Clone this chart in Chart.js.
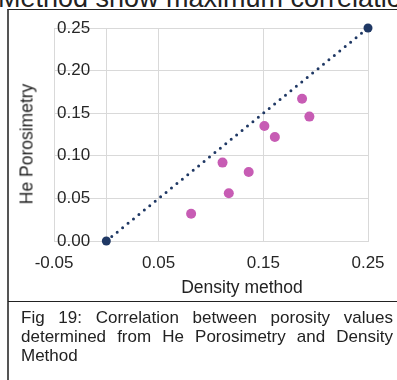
<!DOCTYPE html>
<html>
<head>
<meta charset="utf-8">
<script src="https://cdn.jsdelivr.net/npm/chart.js@4.4.1/dist/chart.umd.min.js"></script>
<style>
  html, body { margin: 0; padding: 0; background: #fff; }
  body { width: 397px; height: 380px; position: relative; overflow: hidden; font-family: "Liberation Sans", Arial, sans-serif; color: #222; }
  #headText { position: absolute; left: -2px; top: -15px; font-size: 27px; line-height: 27px; white-space: nowrap; }
  #frame { position: absolute; left: 7px; top: 9px; width: 400px; height: 380px; border-left: 2px solid #555; border-top: 1px solid #222; }
  #sep { position: absolute; left: 8px; top: 301px; width: 400px; border-top: 1px solid #222; }
  #chart { position: absolute; left: 0; top: 0; }
  .axisTitle { position: absolute; font-size: 17.5px; white-space: nowrap; color: #222; }
  #yTitle { left: 27px; top: 144px; transform: translate(-50%, -50%) rotate(-90deg); }
  #xTitle { left: 242px; top: 287px; transform: translate(-50%, -50%); }
  #caption { position: absolute; left: 21px; top: 308px; width: 372px; font-size: 17px; line-height: 19px; }
  #caption .j { text-align: justify; text-align-last: justify; }
</style>
</head>
<body>
<div id="headText">Method show maximum correlation</div>
<div id="frame"></div>
<div id="sep"></div>
<canvas id="chart" width="397" height="380"></canvas>
<div class="axisTitle" id="yTitle">He Porosimetry</div>
<div class="axisTitle" id="xTitle">Density method</div>
<div id="caption">
  <div class="j">Fig 19: Correlation between porosity values</div>
  <div class="j">determined from He Porosimetry and Density</div>
  <div>Method</div>
</div>
<script>
// --- DATA ---
const densityMethod = [0.081, 0.111, 0.117, 0.136, 0.151, 0.161, 0.187, 0.194];
const hePorosimetry = [0.032, 0.092, 0.056, 0.081, 0.135, 0.122, 0.167, 0.146];
const refLineX = [0, 0.25];
const refLineY = [0, 0.25];
const xTicks = [-0.05, 0, 0.05, 0.15, 0.25]; // 0 carries the vertical axis line, no label
const xLabelled = [-0.05, 0.05, 0.15, 0.25];
const yTicks = [0, 0.05, 0.10, 0.15, 0.20, 0.25];

const navy = '#1f3864';
const pink = '#c75cb4';
const gridColor = '#d9d9d9';

Chart.defaults.font.family = "'Liberation Sans', Arial, sans-serif";

const chart = new Chart(document.getElementById('chart'), {
  type: 'scatter',
  data: {
    datasets: [
      {
        label: 'Reference',
        data: refLineX.map((x, i) => ({ x, y: refLineY[i] })),
        showLine: true,
        clip: false,
        borderColor: navy,
        backgroundColor: navy,
        borderWidth: 3,
        borderDash: [0, 7],
        borderCapStyle: 'round',
        pointRadius: 4.5,
        pointHoverRadius: 4.5,
        pointBorderWidth: 0
      },
      {
        label: 'Samples',
        data: densityMethod.map((x, i) => ({ x, y: hePorosimetry[i] })),
        clip: false,
        backgroundColor: pink,
        borderColor: pink,
        pointRadius: 5,
        pointHoverRadius: 5,
        pointBorderWidth: 0
      }
    ]
  },
  options: {
    responsive: false,
    animation: false,
    devicePixelRatio: 1,
    layout: { padding: { left: 48, right: 29, top: 28, bottom: 99 } },
    plugins: { legend: { display: false }, tooltip: { enabled: false } },
    scales: {
      x: {
        type: 'linear',
        position: 'bottom',
        min: -0.05,
        max: 0.25,
        afterBuildTicks: s => { s.ticks = xTicks.map(v => ({ value: v })); },
        afterFit: s => { s.height = 40; },
        grid: { color: gridColor, drawTicks: false },
        border: { color: gridColor },
        ticks: {
          padding: 12, color: '#262626', font: { size: 17 },
          callback: v => xLabelled.includes(v) ? v.toFixed(2) : ''
        }
      },
      y: {
        type: 'linear',
        position: 'left',
        min: 0,
        max: 0.25,
        afterBuildTicks: s => { s.ticks = yTicks.map(v => ({ value: v })); },
        grid: { color: gridColor, drawTicks: false },
        border: { color: gridColor },
        ticks: { mirror: true, padding: 3, color: '#262626', font: { size: 17 }, callback: v => v.toFixed(2) }
      }
    }
  }
});
</script>
</body>
</html>
